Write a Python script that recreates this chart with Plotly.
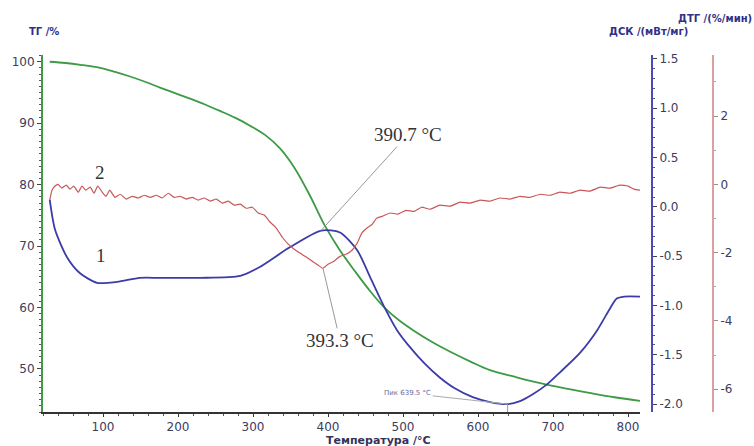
import plotly.graph_objects as go

W, H = 754, 446
ML, MR, MT, MB = 43, 41, 55, 34
PW = W - ML - MR
PH = H - MT - MB

# ---------------- data ----------------
temp_tg = [29, 50, 70, 96, 116, 136, 156, 176, 196, 216, 236, 256, 276, 296, 316, 336, 356, 376, 396, 416,
           436, 456, 476, 496, 516, 540, 563, 590, 616, 650, 683, 716, 749, 782, 816]
tg = [100.0, 99.8, 99.5, 99.0, 98.35, 97.6, 96.75, 95.8, 94.9, 94.0, 93.05, 92.0, 90.9, 89.6, 88.1, 85.9,
      82.6, 78.2, 73.3, 69.3, 65.9, 62.7, 59.9, 57.8, 56.1, 54.3, 52.8, 51.2, 49.8, 48.7, 47.7, 46.85,
      46.1, 45.4, 44.8]

temp_dsc = [29, 36, 52, 69, 92, 119, 149, 176, 229, 283, 309, 349, 391, 416, 439, 456, 476, 492,
            509, 529, 549, 569, 593, 616, 639.5, 656, 673, 692, 709, 736, 759, 776, 785, 795, 816]
dsc = [0.07, -0.23, -0.51, -0.67, -0.77, -0.76, -0.72, -0.72, -0.72, -0.70, -0.61, -0.41, -0.24, -0.26,
       -0.44, -0.71, -1.03, -1.25, -1.42, -1.59, -1.73, -1.84, -1.93, -1.98, -2.00, -1.97, -1.90, -1.80,
       -1.68, -1.48, -1.25, -1.03, -0.93, -0.91, -0.91]

temp_dtg = [29, 32, 36, 40, 45, 51, 56, 61, 67, 72, 77, 83, 88, 93, 99, 104, 109, 116, 123, 131, 139,
            147, 155, 163, 171, 179, 187, 195, 203, 211, 219, 227, 235, 243, 251, 259, 267, 275, 283,
            291, 299, 307, 315, 323, 331, 339, 347, 355, 363, 371, 379, 387, 393.3, 400, 408, 416, 424,
            432, 439, 445, 452, 459, 465, 473, 483, 493, 504, 515, 525, 536, 549, 563, 576, 589, 603,
            616, 629, 643, 656, 669, 683, 696, 709, 723, 736, 749, 763, 776, 789, 800, 808, 816]
dtg = [-0.46, -0.17, -0.05, 0.00, -0.11, -0.02, -0.14, -0.05, -0.23, -0.05, -0.17, -0.08, -0.26, -0.05,
       -0.23, -0.35, -0.17, -0.38, -0.29, -0.43, -0.35, -0.40, -0.32, -0.38, -0.32, -0.40, -0.26, -0.38,
       -0.35, -0.43, -0.38, -0.46, -0.40, -0.49, -0.43, -0.55, -0.49, -0.61, -0.58, -0.70, -0.67, -0.84,
       -0.90, -1.11, -1.28, -1.55, -1.75, -1.90, -2.02, -2.13, -2.25, -2.37, -2.46, -2.34, -2.25, -2.11,
       -2.05, -1.93, -1.72, -1.43, -1.28, -1.17, -0.99, -0.93, -0.84, -0.87, -0.76, -0.79, -0.67, -0.73,
       -0.61, -0.64, -0.52, -0.55, -0.46, -0.49, -0.40, -0.43, -0.35, -0.38, -0.29, -0.32, -0.23, -0.26,
       -0.17, -0.20, -0.08, -0.11, -0.02, -0.05, -0.14, -0.17]

x_ticks = [100, 200, 300, 400, 500, 600, 700, 800]
tg_ticks = [50, 60, 70, 80, 90, 100]
dsc_ticks = [-2.0, -1.5, -1.0, -0.5, 0.0, 0.5, 1.0, 1.5]
dsc_labels = ["-2.0", "-1.5", "-1.0", "-0.5", "0.0", "0.5", "1.0", "1.5"]
dtg_ticks = [-6, -4, -2, 0, 2]
dtg_labels = ["-6", "-4", "-2", "0", "2"]

peak_dsc_t, peak_dsc_v = 390.7, -0.24
peak_dtg_t, peak_dtg_v = 393.3, -2.46
min_dsc_t, min_dsc_v = 639.5, -2.00

# ---------------- styles ----------------
C_TG = "#3d9a45"
C_DSC = "#3c3ca8"
C_DTG = "#c8585a"
TICKFONT = dict(family="DejaVu Sans", size=12, color="#3c3c5c")
TITLEFONT = dict(family="DejaVu Sans", size=10, color="#30308a")
SERIF = dict(family="Liberation Serif", size=19, color="#333333")


def px(x):
    return (x - ML) / PW


def py(y):
    return (H - MB - y) / PH


fig = go.Figure()
fig.add_trace(go.Scatter(x=temp_tg, y=tg, mode="lines", line=dict(color=C_TG, width=1.8, shape="spline", smoothing=1.0),
                         yaxis="y", showlegend=False))
fig.add_trace(go.Scatter(x=temp_dsc, y=dsc, mode="lines", line=dict(color=C_DSC, width=1.8, shape="spline", smoothing=0.7),
                         yaxis="y2", showlegend=False))
fig.add_trace(go.Scatter(x=temp_dtg, y=dtg, mode="lines", line=dict(color=C_DTG, width=1.2, shape="spline", smoothing=0.4),
                         yaxis="y3", showlegend=False))

xdom_end = px(640)

fig.update_layout(
    width=W, height=H,
    margin=dict(l=ML, r=MR, t=MT, b=MB),
    paper_bgcolor="white", plot_bgcolor="white",
    xaxis=dict(domain=[0, xdom_end], range=[20, 816], tickvals=x_ticks, showgrid=False, zeroline=False,
               showline=True, linecolor="#333333", linewidth=1.5, ticks="outside", ticklen=3, tickcolor="#333333",
               minor=dict(dtick=20, ticks="outside", ticklen=2, tickcolor="#555555"),
               tickfont=TICKFONT, anchor="y"),
    yaxis=dict(range=[43.0, 101.1], tickvals=tg_ticks, showgrid=False, zeroline=False,
               showline=True, linecolor=C_TG, linewidth=2, ticks="outside", ticklen=4, tickcolor="#444444",
               minor=dict(dtick=1, ticks="outside", ticklen=2, tickcolor="#555555"),
               tickfont=TICKFONT, anchor="x"),
    yaxis2=dict(range=[-2.08, 1.54], tickvals=dsc_ticks, ticktext=dsc_labels, overlaying="y", side="right",
                anchor="free", position=px(652), showgrid=False, zeroline=False,
                showline=True, linecolor="#4a4ab8", linewidth=2, ticks="outside", ticklen=4, tickcolor="#444444",
                minor=dict(dtick=0.1, ticks="outside", ticklen=2, tickcolor="#555577"),
                tickfont=TICKFONT),
    yaxis3=dict(range=[-6.67, 3.79], tickvals=dtg_ticks, ticktext=dtg_labels, overlaying="y", side="right",
                anchor="free", position=1.0, showgrid=False, zeroline=False,
                showline=True, linecolor="#d9a0a0", linewidth=2, ticks="outside", ticklen=4, tickcolor="#aa8888",
                minor=dict(dtick=1, ticks="outside", ticklen=2, tickcolor="#bb9999"),
                tickfont=TICKFONT),
)

ann = []
# axis titles
ann.append(dict(text="<b>ТГ /%</b>", xref="paper", yref="paper", x=px(44), y=py(31), showarrow=False,
                font=TITLEFONT, xanchor="center", yanchor="middle"))
ann.append(dict(text="<b>ДТГ /(%/мин)</b>", xref="paper", yref="paper", x=px(754), y=py(19), showarrow=False,
                font=TITLEFONT, xanchor="right", yanchor="middle"))
ann.append(dict(text="<b>ДСК /(мВт/мг)</b>", xref="paper", yref="paper", x=px(648), y=py(31), showarrow=False,
                font=TITLEFONT, xanchor="center", yanchor="middle"))
ann.append(dict(text="<b>Температура /°C</b>", xref="paper", yref="paper", x=px(378), y=py(440), showarrow=False,
                font=dict(family="DejaVu Sans", size=11, color="#33335a"), xanchor="center", yanchor="middle"))
# curve numbers
ann.append(dict(text="3", xref="x", yref="y", x=96, y=101.6, showarrow=False, font=SERIF))
ann.append(dict(text="2", xref="x", yref="y", x=96, y=81.9, showarrow=False, font=SERIF))
ann.append(dict(text="1", xref="x", yref="y", x=97, y=68.4, showarrow=False, font=SERIF))
# peak labels
ann.append(dict(text="390.7 °C", xref="x", yref="y2", x=peak_dsc_t, y=peak_dsc_v, showarrow=True,
                arrowhead=0, arrowwidth=1, arrowcolor="#999999", ax=87, ay=-96, font=SERIF))
ann.append(dict(text="393.3 °C", xref="x", yref="y3", x=peak_dtg_t, y=peak_dtg_v, showarrow=True,
                arrowhead=0, arrowwidth=1, arrowcolor="#999999", ax=17, ay=72, font=SERIF))
ann.append(dict(text="Пик 639.5 °C", xref="x", yref="y2", x=min_dsc_t, y=min_dsc_v, showarrow=True,
                arrowhead=0, arrowwidth=1, arrowcolor="#aaaaaa", ax=-100, ay=-11,
                font=dict(family="DejaVu Sans", size=7, color="#6a6aa0")))
fig.update_layout(annotations=ann)

fig.add_shape(type="line", xref="x", yref="y2", x0=min_dsc_t, x1=min_dsc_t, y0=min_dsc_v, y1=-2.08,
              line=dict(color="#999999", width=1))

fig.write_html("out.html")
